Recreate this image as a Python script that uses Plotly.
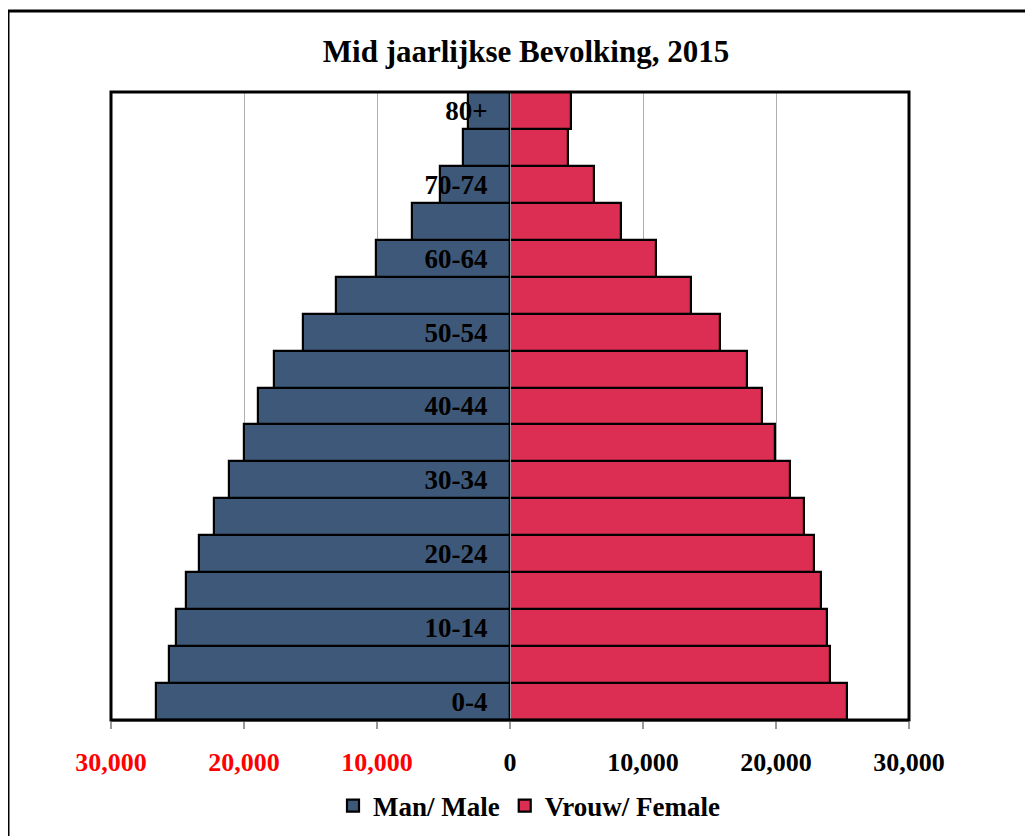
import plotly.graph_objects as go

age_groups = ["0-4", "5-9", "10-14", "15-19", "20-24", "25-29", "30-34", "35-39",
              "40-44", "45-49", "50-54", "55-59", "60-64", "65-69", "70-74", "75-79", "80+"]
male = [26640, 25620, 25110, 24390, 23360, 22260, 21130, 19980,
        18970, 17770, 15540, 13100, 10100, 7350, 5260, 3500, 3180]
female = [25360, 24060, 23860, 23380, 22830, 22080, 21080, 19950,
          18950, 17820, 15770, 13610, 10980, 8380, 6330, 4330, 4560]
x_ticks = [-30000, -20000, -10000, 0, 10000, 20000, 30000]
x_ticktext = ['<span style="color:#FF0000">30,000</span>',
              '<span style="color:#FF0000">20,000</span>',
              '<span style="color:#FF0000">10,000</span>',
              "0", "10,000", "20,000", "30,000"]
shown_ages = age_groups[::2]

MALE_COLOR = "#3E5879"
FEMALE_COLOR = "#DC2E52"
FONT = "Liberation Serif"

L, T, PW, PH = 103, 84, 798, 628
W, H = 1033, 836

fig = go.Figure()
fig.add_trace(go.Bar(
    y=age_groups, x=[-v for v in male], orientation="h", name="Man/ Male",
    marker=dict(color=MALE_COLOR, line=dict(color="black", width=2.2)),
    width=1.0, customdata=male, hovertemplate="%{y}: %{customdata:,}<extra>Man/ Male</extra>",
))
fig.add_trace(go.Bar(
    y=age_groups, x=female, orientation="h", name="Vrouw/ Female",
    marker=dict(color=FEMALE_COLOR, line=dict(color="black", width=2.2)),
    width=1.0, hovertemplate="%{y}: %{x:,}<extra>Vrouw/ Female</extra>",
))

fig.update_layout(
    width=W, height=H,
    margin=dict(l=L, r=W - L - PW, t=T, b=H - T - PH, autoexpand=False),
    paper_bgcolor="white", plot_bgcolor="white",
    barmode="overlay", bargap=0,
    font=dict(family=FONT, color="black", size=24, weight="bold"),
    title=dict(text="Mid jaarlijkse Bevolking, 2015", x=(518 - L) / PW, xanchor="center",
               xref="paper", y=1 - 43 / H, yanchor="middle",
               font=dict(family=FONT, size=31, color="black", weight="bold")),
    showlegend=True,
    legend=dict(orientation="h", x=(521 - L) / PW, xanchor="center",
                yref="container", y=1 - 798 / H, yanchor="middle",
                font=dict(family=FONT, size=27, color="black", weight="bold"),
                itemwidth=30, tracegroupgap=0, traceorder="normal"),
    xaxis=dict(range=[-30000, 30000], tickvals=x_ticks, ticktext=x_ticktext,
               showgrid=True, gridcolor="#B0B0B0", gridwidth=1, zeroline=False,
               showline=True, linecolor="#9A9A9A", linewidth=1.5,
               ticks="outside", ticklen=7, tickcolor="#9A9A9A", tickwidth=1.5,
               ticklabelstandoff=11, automargin=False,
               tickfont=dict(family=FONT, size=26, color="black", weight="bold"),
               fixedrange=True),
    yaxis=dict(type="category", categoryorder="array", categoryarray=age_groups,
               tickmode="array", tickvals=shown_ages, ticktext=shown_ages,
               anchor="free", position=0.5, showgrid=False, zeroline=False,
               showline=True, linecolor="#9A9A9A", linewidth=1,
               ticks="", ticklabelstandoff=17, automargin=False,
               tickfont=dict(family=FONT, size=27, color="black", weight="bold"),
               range=[-0.5, 16.5], fixedrange=True),
    shapes=[
        dict(type="rect", xref="paper", yref="paper", x0=0, x1=1, y0=0, y1=1,
             line=dict(color="black", width=3), layer="above"),
        dict(type="rect", xref="paper", yref="paper",
             x0=(0 - L) / PW, x1=(1045 - L) / PW,
             y0=-(H + 20 - T - PH) / PH, y1=(PH + T - 3) / PH,
             line=dict(color="black", width=3), layer="above"),
    ],
)

fig.write_html("out.html")
